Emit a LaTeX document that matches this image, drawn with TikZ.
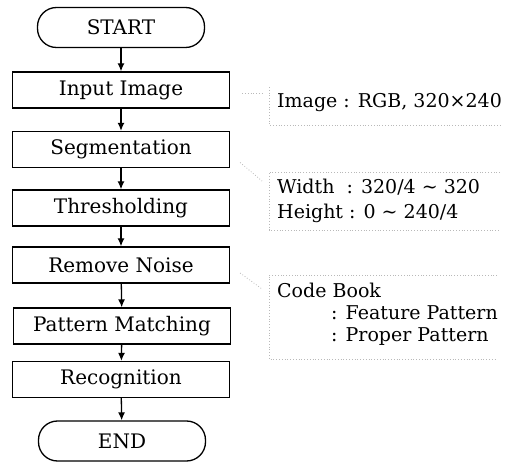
\documentclass[tikz,border=0pt]{standalone}
\usepackage{fontspec}
\setmainfont{DejaVu Serif}
\usetikzlibrary{arrows.meta}
\tikzset{
  proc/.style={draw, line width=1.3pt, minimum width=217pt, minimum height=36pt, inner sep=0pt, font=\fontsize{20}{22}\selectfont},
  term/.style={proc, rounded corners=19pt, minimum width=167pt, minimum height=40pt},
  flow/.style={line width=1.3pt, -{Latex[length=8pt,width=7pt]}},
  note/.style={anchor=west, align=left, inner sep=0pt, font=\fontsize{19}{22}\selectfont},
  memo/.style={gray!55, dotted, line width=0.8pt},
}
\begin{document}
\begin{tikzpicture}[x=1pt,y=-1pt]
    \useasboundingbox (0,0) rectangle (509,465);
    % flow
    \node [term] (start) at (121,27.5) {START};
    \node [proc] (input) at (121,90) {Input Image};
    \node [proc] (seg) at (121,149.5) {Segmentation};
    \node [proc] (thres) at (121,208) {Thresholding};
    \node [proc] (noise) at (121,265) {Remove Noise};
    \node [proc] (match) at (122,326) {Pattern Matching};
    \node [proc] (recog) at (121,379.5) {Recognition};
    \node [term] (end) at (122,441) {END};
    \draw [flow] (start) -- (input);\draw [flow] (input) -- (seg);
    \draw [flow] (seg) -- (thres);\draw [flow] (thres) -- (noise);
    \draw [flow] (noise) -- (match);\draw [flow] (match) -- (recog);
    \draw [flow] (recog) -- (end);
    % notes
    \node [note] (img) at (277,103) {Image : RGB, 320×240};
    \node [note] (size) at (277,201) {Width\ \ : 320/4 \textasciitilde{} 320\\[3pt]Height : 0 \textasciitilde{} 240/4};
    \node [note] (book) at (277,314) {Code Book\\\hspace{54pt}: Feature Pattern\\\hspace{54pt}: Proper Pattern};
    % brackets
    \coordinate (a1) at (269,87);\coordinate (a2) at (269,125);\coordinate (a3) at (500,125);
    \coordinate (b1) at (269,172);\coordinate (b2) at (269,230);\coordinate (b3) at (500,230);\coordinate (b0) at (500,172);
    \coordinate (c1) at (269,275);\coordinate (c2) at (269,359);\coordinate (c3) at (497,359);\coordinate (c0) at (497,275);
    \draw [memo] (a1) -- (a2) -- (a3);
    \draw [memo] (b0) -- (b1) -- (b2) -- (b3);
    \draw [memo] (c0) -- (c1) -- (c2) -- (c3);
    \draw [memo] ([xshift=12pt,yshift=-3pt]input.east) -- (262,93);
    \draw [memo] ([xshift=10pt,yshift=-13pt]seg.east) -- (262,181);
    \draw [memo] ([xshift=10pt,yshift=-8pt]noise.east) -- (262,289);
\end{tikzpicture}
\end{document}
